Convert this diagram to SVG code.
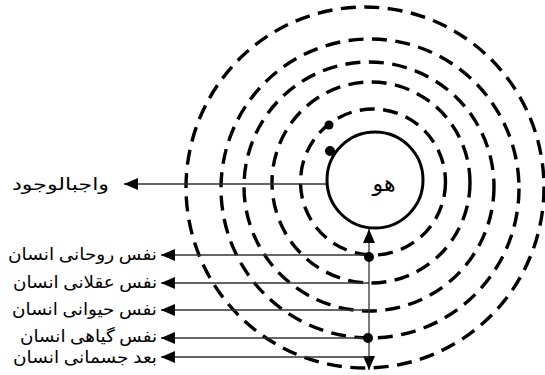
<svg xmlns="http://www.w3.org/2000/svg" width="545" height="375" viewBox="0 0 545 375">
<style>
.ring{fill:none;stroke:#000;stroke-width:3.4;stroke-dasharray:15 8.5}
.core{fill:#fff;stroke:#000;stroke-width:3}
.lbl{font-family:"Liberation Serif","DejaVu Serif","DejaVu Sans",serif;font-size:17px;fill:#000;text-anchor:end}
.ln{stroke:#333;stroke-width:1.3;fill:none}
.dot{fill:#000}
</style>
<defs>
<marker id="ah" viewBox="0 0 14 12" markerWidth="10.8" markerHeight="9.2" refX="14" refY="6" orient="auto">
<path d="M0,0 L14,6 L0,12 z" fill="#000"/>
</marker>
</defs>
<rect width="545" height="375" fill="#fff"/>
<g id="rings">
<ellipse class="ring" cx="365" cy="187.5" rx="179" ry="180.5"/>
<ellipse class="ring" cx="370" cy="188.5" rx="149" ry="149.5"/>
<ellipse class="ring" cx="369" cy="186.5" rx="125" ry="124.5"/>
<ellipse class="ring" cx="371" cy="182.5" rx="99" ry="100.5"/>
<ellipse class="ring" cx="373" cy="182" rx="72.5" ry="73"/>
</g>
<g id="connectors">
<line class="ln" x1="327" y1="184" x2="124" y2="184" marker-end="url(#ah)"/>
<line class="ln" x1="369" y1="300" x2="369" y2="229" marker-end="url(#ah)"/>
<line class="ln" x1="369" y1="300" x2="369" y2="370" marker-end="url(#ah)"/>
<line class="ln" x1="369" y1="255" x2="161" y2="255" marker-end="url(#ah)"/>
<line class="ln" x1="369" y1="283" x2="161" y2="283" marker-end="url(#ah)"/>
<line class="ln" x1="369" y1="310" x2="161" y2="310" marker-end="url(#ah)"/>
<line class="ln" x1="369" y1="338" x2="161" y2="338" marker-end="url(#ah)"/>
<line class="ln" x1="369" y1="357" x2="161" y2="357" marker-end="url(#ah)"/>
</g>
<g id="core">
<circle class="core" cx="375" cy="180" r="48"/>
<text x="384" y="191" font-family="Liberation Serif,DejaVu Sans,serif" font-size="22" text-anchor="middle">هو</text>
</g>
<g id="dots">
<circle class="dot" cx="329" cy="125" r="4.5"/>
<circle class="dot" cx="330" cy="151" r="5"/>
<circle class="dot" cx="369" cy="257" r="5"/>
<circle class="dot" cx="368" cy="338" r="5"/>
</g>
<g id="label-wajib"><text class="lbl" x="109" y="190" textLength="97" lengthAdjust="spacingAndGlyphs">واجبالوجود</text></g>
<g id="label-ruhani"><text class="lbl" x="157" y="260" textLength="149" lengthAdjust="spacingAndGlyphs">نفس روحانی انسان</text></g>
<g id="label-aqlani"><text class="lbl" x="157" y="288" textLength="144" lengthAdjust="spacingAndGlyphs">نفس عقلانی انسان</text></g>
<g id="label-heyvani"><text class="lbl" x="157" y="315" textLength="145" lengthAdjust="spacingAndGlyphs">نفس حیوانی انسان</text></g>
<g id="label-giyahi"><text class="lbl" x="157" y="342" textLength="137" lengthAdjust="spacingAndGlyphs">نفس گیاهی انسان</text></g>
<g id="label-jesmani"><text class="lbl" x="157" y="363" textLength="144" lengthAdjust="spacingAndGlyphs">بعد جسمانی انسان</text></g>
</svg>
